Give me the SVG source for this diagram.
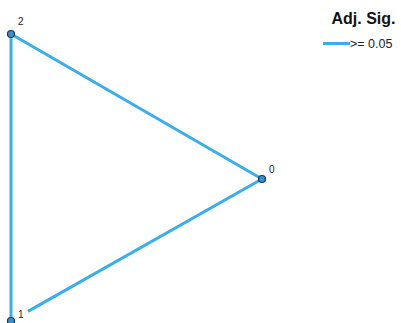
<svg xmlns="http://www.w3.org/2000/svg" width="401" height="323" viewBox="0 0 401 323">
<style>
.edge{stroke:#3aaeea;stroke-width:3;fill:none;stroke-linecap:butt}
.node{fill:#3b8fd0;stroke:#1a3550;stroke-width:1.2}
.lbl{font-family:"Liberation Sans",Arial,sans-serif;font-size:10px;fill:#222}
.title{font-family:"Liberation Sans",Arial,sans-serif;font-size:16px;font-weight:bold;fill:#111}
.leg{font-family:"Liberation Sans",Arial,sans-serif;font-size:12.5px;fill:#222}
</style>
<rect width="401" height="323" fill="#fff"/>
<g id="connectors">
<line class="edge" x1="11" y1="34" x2="262" y2="179"/>
<line class="edge" x1="11" y1="34" x2="11" y2="321"/>
<line class="edge" x1="28" y1="311.4" x2="262" y2="179"/>
</g>
<g id="node-2"><circle class="node" cx="11" cy="34" r="3.5"/><text class="lbl" x="18" y="25">2</text></g>
<g id="node-0"><circle class="node" cx="262" cy="179" r="3.5"/><text class="lbl" x="269" y="173">0</text></g>
<g id="node-1"><circle class="node" cx="11" cy="321" r="3.5"/><text class="lbl" x="18" y="318">1</text></g>
<g id="legend">
<text class="title" x="363.5" y="24" text-anchor="middle">Adj. Sig.</text>
<line class="edge" x1="323" y1="43.5" x2="350" y2="43.5"/>
<text class="leg" x="350" y="48">&gt;= 0.05</text>
</g>
</svg>
